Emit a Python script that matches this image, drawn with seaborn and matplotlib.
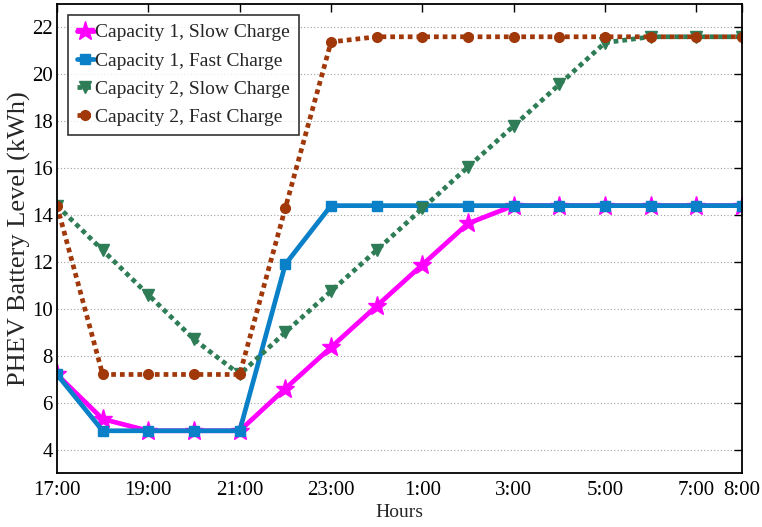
import matplotlib
matplotlib.use("Agg")
import matplotlib.pyplot as plt
import seaborn as sns
import pandas as pd

# Hourly time index from 17:00 to 8:00 the next morning
hours = list(range(16))
tick_positions = [0, 2, 4, 6, 8, 10, 12, 14, 15]
tick_labels = ["17:00", "19:00", "21:00", "23:00", "1:00", "3:00", "5:00", "7:00", "8:00"]

# Battery level (kWh) for each scenario
cap1_slow = [7.2, 5.3, 4.8, 4.8, 4.8, 6.6, 8.36, 10.12, 11.88, 13.64, 14.4, 14.4, 14.4, 14.4, 14.4, 14.4]
cap1_fast = [7.2, 4.8, 4.8, 4.8, 4.8, 11.9, 14.4, 14.4, 14.4, 14.4, 14.4, 14.4, 14.4, 14.4, 14.4, 14.4]
cap2_slow = [14.4, 12.5, 10.6, 8.7, 7.2, 9.0, 10.75, 12.5, 14.28, 16.05, 17.8, 19.57, 21.35, 21.6, 21.6, 21.6]
cap2_fast = [14.4, 7.2, 7.2, 7.2, 7.2, 14.3, 21.38, 21.6, 21.6, 21.6, 21.6, 21.6, 21.6, 21.6, 21.6, 21.6]

series_names = ["Capacity 1, Slow Charge", "Capacity 1, Fast Charge",
                "Capacity 2, Slow Charge", "Capacity 2, Fast Charge"]
series_values = [cap1_slow, cap1_fast, cap2_slow, cap2_fast]

df = pd.DataFrame({
    "hour": hours * len(series_names),
    "level": [v for vals in series_values for v in vals],
    "scenario": [n for n in series_names for _ in hours],
})

dots = (0, (1, 0.85))
styles = {
    "Capacity 1, Slow Charge": dict(color="#FF00FF", marker="*", markersize=14, linestyle="-"),
    "Capacity 1, Fast Charge": dict(color="#0A80C8", marker="s", markersize=7.5, linestyle="-"),
    "Capacity 2, Slow Charge": dict(color="#2E7D57", marker="v", markersize=9, linestyle=dots),
    "Capacity 2, Fast Charge": dict(color="#A0380A", marker="o", markersize=7, linestyle=dots),
}

sns.set_theme(style="white")
plt.rcParams["font.family"] = ["Liberation Serif", "DejaVu Serif"]

fig = plt.figure(figsize=(7.62, 5.27), dpi=100)
ax = fig.add_axes([0.0748, 0.1025, 0.899, 0.890])

for name in series_names:
    st = styles[name]
    sub = df[df["scenario"] == name]
    sns.lineplot(data=sub, x="hour", y="level", ax=ax, label=name,
                 color=st["color"], marker=st["marker"], markersize=st["markersize"],
                 linestyle=st["linestyle"], linewidth=3.4,
                 markeredgecolor=st["color"], markeredgewidth=1, dash_capstyle="butt")

ax.set_xlim(0, 15)
ax.set_ylim(3, 23)
ax.set_xticks(tick_positions)
ax.set_xticklabels(tick_labels)
ax.set_yticks(range(4, 23, 2))

ax.yaxis.grid(True, linestyle=(0, (1, 2)), color="#a0a0a0", linewidth=0.8)
ax.xaxis.grid(False)
ax.set_axisbelow(True)

for side in ax.spines.values():
    side.set_color("black")
    side.set_linewidth(1.3)

ax.tick_params(axis="both", which="major", direction="in", length=6, width=1,
               top=True, right=True, labelsize=15, colors="black")
ax.tick_params(axis="x", pad=6)
ax.tick_params(axis="y", pad=3)

ax.set_xlabel("Hours", fontsize=14, labelpad=3)
ax.set_ylabel("PHEV Battery Level (kWh)", fontsize=19, labelpad=1)

leg = ax.legend(loc="upper left", bbox_to_anchor=(0.016, 0.9765), fontsize=14,
                frameon=True, fancybox=False, handlelength=0.9, handletextpad=0.05,
                borderpad=0.45, labelspacing=0.55, borderaxespad=0)
leg.get_frame().set_edgecolor("black")
leg.get_frame().set_linewidth(1.2)

fig.savefig("out.png", dpi=100)
